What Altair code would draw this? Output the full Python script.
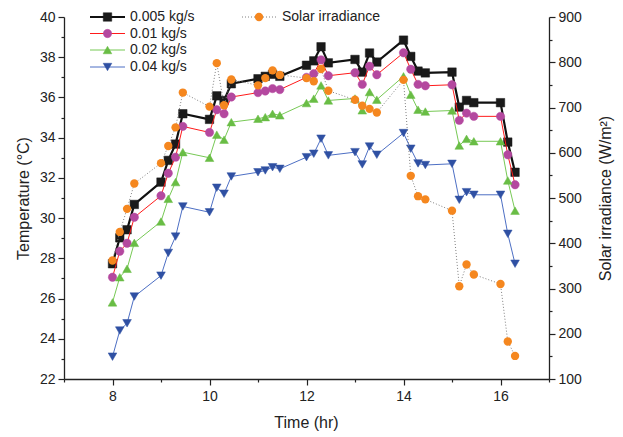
import altair as alt
import pandas as pd

hours = [8.0, 8.15, 8.3, 8.45, 9.0, 9.15, 9.3, 9.45, 10.0, 10.15, 10.3, 10.45,
         11.0, 11.15, 11.3, 11.45, 12.0, 12.15, 12.3, 12.45, 13.0, 13.15, 13.3, 13.45,
         14.0, 14.15, 14.3, 14.45, 15.0, 15.15, 15.3, 15.45, 16.0, 16.15, 16.3]

t_0005 = [27.73, 29.02, 29.42, 30.68, 31.79, 32.87, 33.68, 35.19, 34.91, 36.08, 35.85, 36.68,
          36.93, 37.05, 37.15, 37.05, 37.6, 37.82, 38.52, 37.72, 37.89, 37.26, 38.21, 37.76,
          38.85, 38.04, 37.31, 37.22, 37.26, 35.52, 35.85, 35.74, 35.74, 33.78, 32.28]
t_001 = [27.06, 28.35, 28.75, 30.04, 31.11, 32.23, 33.03, 34.56, 34.26, 35.39, 35.19, 36.02,
         36.24, 36.32, 36.44, 36.39, 37.0, 37.18, 37.87, 37.08, 37.23, 36.65, 37.55, 37.13,
         38.22, 37.4, 36.65, 36.58, 36.63, 34.86, 35.22, 35.06, 35.06, 33.15, 31.66]
t_002 = [25.81, 27.06, 27.48, 28.77, 29.83, 30.96, 31.79, 33.28, 33.0, 34.15, 33.9, 34.77,
         34.94, 35.02, 35.19, 35.11, 35.72, 35.94, 36.6, 35.85, 35.95, 35.36, 36.27, 35.89,
         37.05, 36.14, 35.39, 35.3, 35.35, 33.61, 33.94, 33.82, 33.82, 31.87, 30.37]
t_004 = [23.11, 24.41, 24.77, 26.1, 27.14, 28.27, 29.08, 30.58, 30.29, 31.51, 31.21, 32.07,
         32.28, 32.37, 32.53, 32.45, 33.03, 33.2, 33.95, 33.12, 33.28, 32.67, 33.56, 33.15,
         34.23, 33.45, 32.72, 32.64, 32.7, 30.91, 31.29, 31.16, 31.16, 29.22, 27.73]
irradiance = [362, 425, 476, 532, 577, 615, 656, 733, 702, 798, 705, 762,
              749, 765, 782, 772, 765, 758, 785, 737, 717, 704, 697, 689,
              761, 549, 504, 497, 472, 305, 353, 331, 310, 183, 151]

series_labels = ["0.005 kg/s", "0.01 kg/s", "0.02 kg/s", "0.04 kg/s"]
irr_label = "Solar irradiance"

df = pd.DataFrame({"time": hours, "s0": t_0005, "s1": t_001, "s2": t_002,
                   "s3": t_004, "irr": irradiance})

FONT = "Liberation Sans"
AX = "#222222"

x_axis = alt.Axis(
    values=list(range(7, 18)),
    labelExpr="datum.value % 2 === 0 ? datum.label : ''",
    tickSize={"condition": {"test": "datum.value % 2 === 0", "value": 6}, "value": 3},
    labelFlush=False, labelOverlap=False, labelPadding=4,
    title="Time (hr)", titleX=242, titleY=43, titleAlign="center",
    titleBaseline="middle",
)
X = alt.X("time:Q", scale=alt.Scale(domain=[7, 17], nice=False, zero=False), axis=x_axis)

y_axis = alt.Axis(
    values=list(range(22, 41)),
    labelExpr="datum.value % 2 === 0 ? datum.label : ''",
    tickSize={"condition": {"test": "datum.value % 2 === 0", "value": 6}, "value": 3},
    labelFlush=False, labelOverlap=False, labelPadding=3,
    title="Temperature (°C)", titleAngle=270, titleX=-41, titleY=181,
    titleAlign="center", titleBaseline="middle",
)
yr_axis = alt.Axis(
    orient="right",
    values=list(range(100, 901, 50)),
    labelExpr="datum.value % 100 === 0 ? datum.label : ''",
    tickSize={"condition": {"test": "datum.value % 100 === 0", "value": 6}, "value": 3},
    labelFlush=False, labelOverlap=False, labelPadding=3,
    title="Solar irradiance (W/m²)", titleAngle=270, titleX=56, titleY=181,
    titleAlign="center", titleBaseline="middle",
)

base = alt.Chart(df)


def temp_layers(field, line_color, line_width, shape, fill, size):
    Y = alt.Y(f"{field}:Q", scale=alt.Scale(domain=[22, 40], nice=False, zero=False), axis=y_axis)
    ln = base.mark_line(color=line_color, strokeWidth=line_width).encode(x=X, y=Y)
    pt = base.mark_point(shape=shape, filled=True, fill=fill, size=size, opacity=1,
                         stroke=fill, strokeWidth=0.5).encode(x=X, y=Y)
    return [ln, pt]


styles = [
    ("s0", "#111111", 2.2, "square", "#1a1a1a", 72),
    ("s1", "#ff1a1a", 1, "circle", "#b4489f", 70),
    ("s2", "#77c955", 1, "triangle-up", "#69bd45", 75),
    ("s3", "#4d6fc4", 1, "triangle-down", "#2f50a3", 75),
]
t_layers = []
for s in styles:
    t_layers += temp_layers(*s)
temp = alt.layer(*t_layers)

YR = alt.Y("irr:Q", scale=alt.Scale(domain=[100, 900], nice=False, zero=False), axis=yr_axis)
irr = alt.layer(
    base.mark_line(color="#808080", strokeWidth=1, strokeDash=[1, 2]).encode(x=X, y=YR),
    base.mark_point(shape="circle", filled=True, fill="#f5871f", size=70, opacity=1).encode(x=X, y=YR),
)

# manual legend
one = pd.DataFrame({"k": [0]})
lg = alt.Chart(one)
legend_layers = []
rows = [0, 16.5, 33, 50]
for (field, lc, lw, shape, fill, size), lab, ry in zip(styles, series_labels, rows):
    legend_layers.append(lg.mark_rule(color=lc, strokeWidth=lw).encode(
        x=alt.value(26), x2=alt.value(61), y=alt.value(ry)))
    legend_layers.append(lg.mark_point(shape=shape, filled=True, fill=fill, size=size, opacity=1,
                                       stroke=fill, strokeWidth=0.5).encode(
        x=alt.value(43.5), y=alt.value(ry)))
    legend_layers.append(lg.mark_text(text=lab, align="left", baseline="middle", font=FONT,
                                      fontSize=14, color=AX).encode(
        x=alt.value(66), y=alt.value(ry)))
legend_layers.append(lg.mark_rule(color="#808080", strokeWidth=1, strokeDash=[1, 2]).encode(
    x=alt.value(178), x2=alt.value(213), y=alt.value(rows[0])))
legend_layers.append(lg.mark_point(shape="circle", filled=True, fill="#f5871f", size=70, opacity=1).encode(
    x=alt.value(195), y=alt.value(rows[0])))
legend_layers.append(lg.mark_text(text=irr_label, align="left", baseline="middle", font=FONT,
                                  fontSize=14, color=AX).encode(
    x=alt.value(218), y=alt.value(rows[0])))

chart = alt.layer(temp, irr, *legend_layers).resolve_scale(y="independent").properties(
    width=485, height=362,
    padding={"left": 56, "top": 9, "right": 66, "bottom": 55},
    autosize=alt.AutoSizeParams(type="none"),
).configure_view(stroke=None).configure_axis(
    grid=False, domainColor=AX, tickColor=AX, labelColor=AX, titleColor=AX,
    domainWidth=1.3, tickWidth=1.2, labelFont=FONT, titleFont=FONT,
    labelFontSize=14, titleFontSize=16, titleFontWeight="normal",
)

chart.save("out.html", embed_options={"renderer": "svg", "actions": False})
